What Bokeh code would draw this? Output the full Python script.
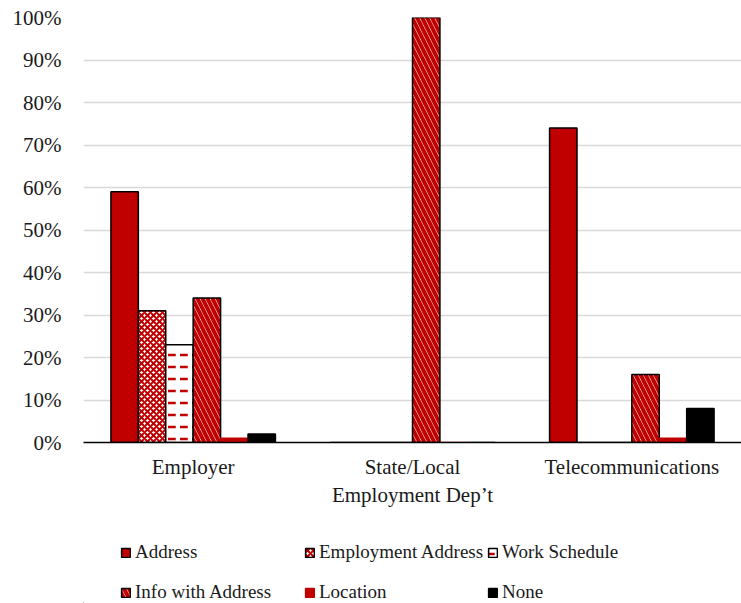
from bokeh.plotting import figure
from bokeh.layouts import column
from bokeh.models import FactorRange, Range1d, Legend, LegendItem, FixedTicker, CustomJSTickFormatter
from bokeh.transform import dodge
from bokeh.models import ColumnDataSource
from bokeh.embed import file_html
from bokeh.resources import INLINE

categories = ["Employer", "State/Local\nEmployment Dep\u2019t", "Telecommunications"]
series = ["Address", "Employment Address", "Work Schedule", "Info with Address", "Location", "None"]
address = [59, 0, 74]
employment_address = [31, 0, 0]
work_schedule = [23, 0, 0]
info_with_address = [34, 100, 16]
location = [1, 0, 1]
none = [2, 0, 8]
y_ticks = [0, 10, 20, 30, 40, 50, 60, 70, 80, 90, 100]

RED = "#C00000"
FONT = "Liberation Serif"
FS = "21px"
TXT = "#1a1a1a"

src = ColumnDataSource(dict(cat=categories, address=address, employment_address=employment_address,
                            work_schedule=work_schedule, info_with_address=info_with_address,
                            location=location, none=none))

p = figure(width=741, height=510, x_range=FactorRange(*categories, range_padding=0),
           y_range=Range1d(0, 100), output_backend="svg", toolbar_location=None,
           min_border_left=83, min_border_right=0, min_border_top=17, min_border_bottom=0)
p.outline_line_color = None

bw = 0.125
offs = [-0.3125, -0.1875, -0.0625, 0.0625, 0.1875, 0.3125]
styles = [
    ("address", dict(fill_color=RED, line_color="black")),
    ("employment_address", dict(fill_color="white", line_color="black", hatch_pattern="diagonal_cross",
                                hatch_color=RED, hatch_scale=6, hatch_weight=2)),
    ("work_schedule", dict(fill_color="white", line_color="black", hatch_pattern="horizontal_dash",
                           hatch_color=RED, hatch_scale=12, hatch_weight=2.5)),
    ("info_with_address", dict(fill_color="white", line_color="black", hatch_pattern="left_diagonal_line",
                               hatch_color=RED, hatch_scale=10, hatch_weight=4)),
    ("location", dict(fill_color=RED, line_color=RED)),
    ("none", dict(fill_color="black", line_color="black")),
]
for (col, st), off in zip(styles, offs):
    p.vbar(x=dodge("cat", off, range=p.x_range), top=col, width=bw, source=src, line_width=1.5, **st)

p.yaxis.ticker = FixedTicker(ticks=y_ticks)
p.yaxis.formatter = CustomJSTickFormatter(code="return tick + '%'")
p.yaxis.axis_line_color = None
p.yaxis.major_tick_line_color = None
p.yaxis.minor_tick_line_color = None
p.yaxis.major_label_standoff = 16
p.yaxis.major_label_text_font = FONT
p.yaxis.major_label_text_font_size = FS
p.yaxis.major_label_text_color = TXT

p.xaxis.axis_line_color = "black"
p.xaxis.axis_line_width = 1.5
p.xaxis.major_tick_line_color = None
p.xaxis.minor_tick_line_color = None
p.xaxis.major_label_standoff = 6
p.xaxis.major_label_text_font = FONT
p.xaxis.major_label_text_font_size = FS
p.xaxis.major_label_text_color = TXT

p.xgrid.grid_line_color = None
p.ygrid.grid_line_color = "#d9d9d9"
p.ygrid.grid_line_width = 1.5
p.ygrid.ticker = FixedTicker(ticks=y_ticks[1:])

# legend area (separate panel below the chart); glyphs here only supply legend swatches
lp = figure(width=741, height=93, x_range=Range1d(0, 1), y_range=Range1d(0, 1),
            x_axis_location=None, y_axis_location=None,
            output_backend="svg", toolbar_location=None,
            min_border_left=0, min_border_right=0, min_border_top=0, min_border_bottom=0)
lp.grid.visible = False
lp.outline_line_color = None
swatch = ColumnDataSource(dict(x=[-10], top=[0]))
leg_r = [lp.vbar(x="x", top="top", width=0.1, source=swatch, line_width=1.5, **st) for _, st in styles]

cols = [(0, 3), (1, 4), (2, 5)]
xs = [37, 221, 404]
for (a, b), x in zip(cols, xs):
    leg = Legend(items=[LegendItem(label=series[a], renderers=[leg_r[a]]),
                        LegendItem(label=series[b], renderers=[leg_r[b]])],
                 location=(x, 0), orientation="vertical", border_line_color=None,
                 background_fill_alpha=0, padding=0, margin=0, spacing=18,
                 label_height=20, glyph_height=11, glyph_width=11, label_standoff=4,
                 label_text_font=FONT, label_text_font_size="19px", label_text_color=TXT)
    lp.add_layout(leg, "center")

open("out.html", "w").write(file_html(column(p, lp, spacing=0), INLINE))
